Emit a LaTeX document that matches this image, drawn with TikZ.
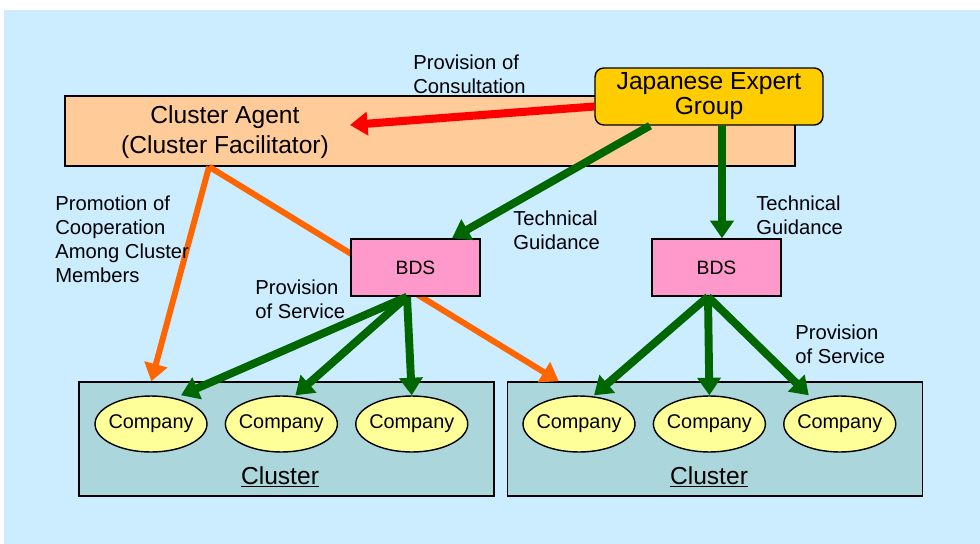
\documentclass[tikz,border=0pt]{standalone}
\usepackage{fontspec}
\setmainfont{Liberation Sans}
\usetikzlibrary{arrows.meta,positioning,shapes.geometric}

\definecolor{skyback}{HTML}{CCECFF}
\definecolor{agentfill}{HTML}{FFCC99}
\definecolor{expertfill}{HTML}{FFCC00}
\definecolor{bdsfill}{HTML}{FF99CC}
\definecolor{clusterfill}{HTML}{ABD6DC}
\definecolor{companyfill}{HTML}{FFFF99}
\definecolor{consultred}{HTML}{FF0000}
\definecolor{guidegreen}{HTML}{006600}
\definecolor{promoorange}{HTML}{FF6600}

\newcommand{\firm}{\makebox[1.4cm]{Company}}

\begin{document}
\begin{tikzpicture}[x=0.02cm,y=-0.02cm,
    >={Triangle[length=10pt,width=13pt]},
    bigtext/.style={font=\fontsize{14}{17}\selectfont,align=center,inner sep=0pt},
    note/.style={font=\fontsize{11.5}{13.6}\selectfont,align=left,anchor=north west,inner sep=0pt},
    boxed/.style={draw=black,line width=0.8pt,inner sep=0pt},
    agentbox/.style={boxed,fill=agentfill,minimum width=14.6cm,minimum height=1.4cm},
    expertbox/.style={boxed,fill=expertfill,rounded corners=5pt,minimum width=4.56cm,
                      minimum height=1.14cm,align=center,font=\fontsize{14}{14.2}\selectfont},
    bdsbox/.style={boxed,fill=bdsfill,minimum width=2.58cm,minimum height=1.14cm,
                   font=\fontsize{11}{13}\selectfont},
    clusterbox/.style={boxed,fill=clusterfill,minimum width=8.3cm,minimum height=2.28cm},
    company/.style={ellipse,boxed,fill=companyfill,minimum width=2.24cm,minimum height=1.12cm,
                    font=\fontsize{11.3}{13}\selectfont},
    consult/.style={->,draw=consultred,line width=4.6pt},
    guide/.style={->,draw=guidegreen,line width=4.5pt},
    promo/.style={->,draw=promoorange,line width=3.4pt}]
  \useasboundingbox (0,0) rectangle (980,544);
  \fill[white] (0,0) rectangle (980,544);
  \fill[skyback] (4,10) rectangle (980,544);

  % boxes
  \node[agentbox] (agent) at (430,131) {};
  \node[bigtext] (agenttext) at (225,132) {Cluster Agent\\(Cluster Facilitator)};
  \node[expertbox] (jeg) at (709,96.5) {Japanese Expert\\Group};
  \node[clusterbox] (cl1) at (286.5,439) {};
  \node[clusterbox] (cl2) at (715,439) {};
  \node[company] (c11) at (151,424) {\firm};
  \node[company,right=0.34cm of c11] (c12) {\firm};
  \node[company,right=0.34cm of c12] (c13) {\firm};
  \node[company] (c21) at (579,424) {\firm};
  \node[company,right=0.34cm of c21] (c22) {\firm};
  \node[company,right=0.34cm of c22] (c23) {\firm};
  \node[bigtext] (cllab1) at (280,477) {\underline{Cluster}};
  \node[bigtext] (cllab2) at (709,477) {\underline{Cluster}};

  % promotion runs behind the first BDS
  \draw[promo] ([xshift=-4.42cm]agent.south) -- ([xshift=1.46cm]cl1.north west);
  \draw[promo] ([xshift=-4.42cm]agent.south) -- ([xshift=1.04cm]cl2.north west);

  \node[bdsbox] (bds1) at (415.5,267.5) {BDS};
  \node[bdsbox] (bds2) at (716.5,267.5) {BDS};

  \coordinate (consultend) at (350,125);
  \draw[consult] ([yshift=-0.2cm]jeg.west) -- (consultend);
  \draw[guide] ([xshift=-1.18cm]jeg.south) -- ([xshift=0.73cm]bds1.north);
  \draw[guide] ([xshift=0.26cm]jeg.south) -- ([xshift=0.11cm]bds2.north);

  \draw[guide] ([xshift=-0.17cm]bds1.south) -- ([xshift=0.6cm]c11.north);
  \draw[guide] ([xshift=-0.17cm]bds1.south) -- ([xshift=0.28cm]c12.north);
  \draw[guide] ([xshift=-0.17cm]bds1.south) -- (c13.north);
  \draw[guide] ([xshift=-0.17cm]bds2.south) -- ([xshift=0.3cm]c21.north);
  \draw[guide] ([xshift=-0.17cm]bds2.south) -- (c22.north);
  \draw[guide] ([xshift=-0.17cm]bds2.south) -- ([xshift=-0.62cm]c23.north);

  % labels
  \node[note] (consultlab) at (413,55) {Provision of\\Consultation};
  \node[note] (promolab) at (55,196) {Promotion of\\Cooperation\\Among Cluster\\Members};
  \node[note] (guidelab1) at (513,211) {Technical\\Guidance};
  \node[note] (guidelab2) at (756,196) {Technical\\Guidance};
  \node[note] (servlab1) at (255,280) {Provision\\of Service};
  \node[note] (servlab2) at (795,325) {Provision\\of Service};
\end{tikzpicture}
\end{document}
